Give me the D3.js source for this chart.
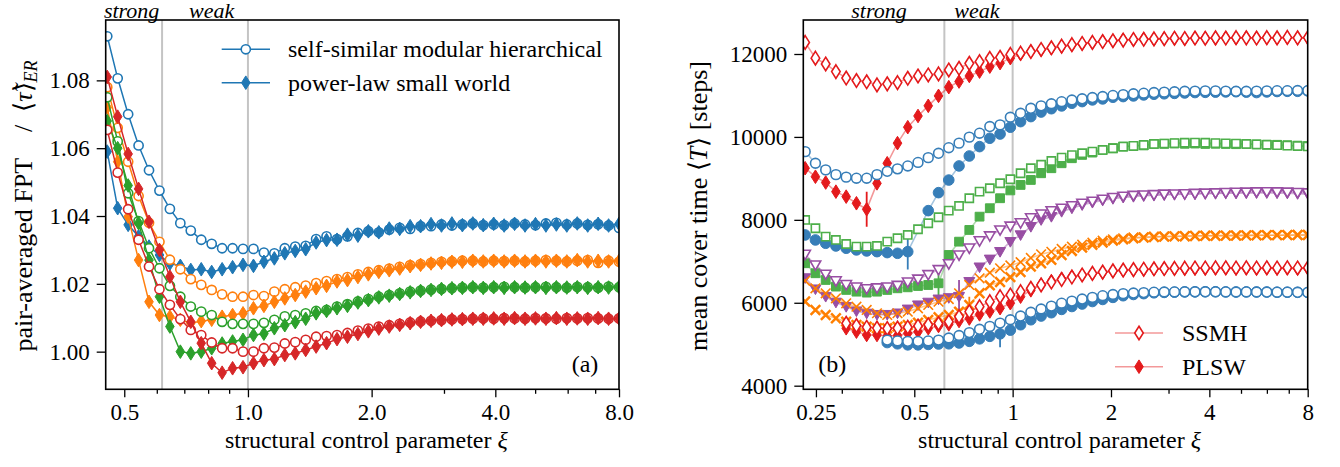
<!DOCTYPE html>
<html>
<head>
<meta charset="utf-8">
<script src="https://cdn.jsdelivr.net/npm/d3@7"></script>
<style>
  body { margin: 0; background: #fff; }
  svg { font-family: "Liberation Serif", "Times New Roman", serif; }
</style>
</head>
<body>
<svg id="chart" width="1340" height="467"></svg>
<script>
// ---- panel (a): pair-averaged FPT ----
const xiA = [0.4545, 0.4819, 0.5110, 0.5418, 0.5744, 0.6090, 0.6457, 0.6846, 0.7259, 0.7697,
  0.8161, 0.8653, 0.9175, 0.9728, 1.0314, 1.0936, 1.1595, 1.2294, 1.3035, 1.3821,
  1.4654, 1.5537, 1.6474, 1.7467, 1.8520, 1.9636, 2.0820, 2.2075, 2.3406, 2.4817,
  2.6313, 2.7899, 2.9581, 3.1364, 3.3255, 3.5260, 3.7385, 3.9639, 4.2028, 4.4562,
  4.7248, 5.0096, 5.3116, 5.6318, 5.9713, 6.3312, 6.7129, 7.1175, 7.5466, 8.0015]

const fptBlueSSMH = [1.0930, 1.0806, 1.0700, 1.0608, 1.0535, 1.0475, 1.0421, 1.0379, 1.0357, 1.0330,
  1.0318, 1.0305, 1.0305, 1.0303, 1.0303, 1.0292, 1.0290, 1.0305, 1.0310, 1.0312,
  1.0332, 1.0340, 1.0332, 1.0340, 1.0350, 1.0355, 1.0352, 1.0360, 1.0365, 1.0362,
  1.0370, 1.0370, 1.0375, 1.0372, 1.0375, 1.0378, 1.0373, 1.0375, 1.0373, 1.0378,
  1.0375, 1.0373, 1.0378, 1.0380, 1.0375, 1.0378, 1.0374, 1.0376, 1.0372, 1.0365]
const fptBluePLSW = [1.0590, 1.0423, 1.0374, 1.0340, 1.0310, 1.0285, 1.0260, 1.0253, 1.0241, 1.0243,
  1.0235, 1.0243, 1.0249, 1.0256, 1.0253, 1.0265, 1.0275, 1.0290, 1.0297, 1.0302,
  1.0322, 1.0329, 1.0330, 1.0345, 1.0342, 1.0355, 1.0352, 1.0363, 1.0362, 1.0370,
  1.0370, 1.0376, 1.0372, 1.0378, 1.0373, 1.0378, 1.0373, 1.0377, 1.0372, 1.0377,
  1.0372, 1.0376, 1.0372, 1.0375, 1.0372, 1.0378, 1.0372, 1.0377, 1.0372, 1.0377]
const fptOrangeSSMH = [1.0780, 1.0660, 1.0560, 1.0459, 1.0380, 1.0324, 1.0271, 1.0243, 1.0214, 1.0197,
  1.0182, 1.0169, 1.0162, 1.0162, 1.0167, 1.0164, 1.0177, 1.0184, 1.0190, 1.0195,
  1.0202, 1.0208, 1.0214, 1.0220, 1.0228, 1.0235, 1.0240, 1.0245, 1.0250, 1.0255,
  1.0258, 1.0262, 1.0265, 1.0266, 1.0268, 1.0268, 1.0266, 1.0268, 1.0267, 1.0268,
  1.0266, 1.0268, 1.0270, 1.0268, 1.0266, 1.0268, 1.0270, 1.0262, 1.0268, 1.0265]
const fptOrangePLSW = [1.0720, 1.0560, 1.0398, 1.0270, 1.0147, 1.0108, 1.0103, 1.0094, 1.0084, 1.0090,
  1.0094, 1.0103, 1.0108, 1.0113, 1.0128, 1.0135, 1.0147, 1.0157, 1.0167, 1.0177,
  1.0187, 1.0194, 1.0207, 1.0211, 1.0220, 1.0228, 1.0235, 1.0240, 1.0245, 1.0252,
  1.0256, 1.0260, 1.0262, 1.0265, 1.0265, 1.0268, 1.0266, 1.0268, 1.0266, 1.0268,
  1.0266, 1.0268, 1.0266, 1.0268, 1.0266, 1.0270, 1.0266, 1.0268, 1.0266, 1.0268]
const fptGreenSSMH = [1.0750, 1.0620, 1.0467, 1.0385, 1.0305, 1.0246, 1.0194, 1.0162, 1.0133, 1.0118,
  1.0108, 1.0088, 1.0082, 1.0082, 1.0082, 1.0085, 1.0094, 1.0104, 1.0108, 1.0113,
  1.0120, 1.0123, 1.0133, 1.0140, 1.0148, 1.0155, 1.0162, 1.0167, 1.0172, 1.0177,
  1.0180, 1.0183, 1.0185, 1.0187, 1.0189, 1.0190, 1.0189, 1.0190, 1.0191, 1.0190,
  1.0189, 1.0190, 1.0191, 1.0190, 1.0189, 1.0191, 1.0190, 1.0189, 1.0192, 1.0190]
const fptGreenPLSW = [1.0680, 1.0600, 1.0490, 1.0379, 1.0270, 1.0162, 1.0074, 1.0000, 0.9995, 1.0000,
  1.0010, 1.0024, 1.0030, 1.0035, 1.0049, 1.0053, 1.0069, 1.0078, 1.0087, 1.0097,
  1.0113, 1.0120, 1.0128, 1.0135, 1.0145, 1.0152, 1.0160, 1.0165, 1.0170, 1.0175,
  1.0179, 1.0182, 1.0185, 1.0187, 1.0188, 1.0190, 1.0188, 1.0190, 1.0188, 1.0190,
  1.0189, 1.0190, 1.0188, 1.0190, 1.0189, 1.0190, 1.0188, 1.0190, 1.0189, 1.0191]
const fptRedSSMH = [1.0654, 1.0528, 1.0420, 1.0330, 1.0251, 1.0184, 1.0138, 1.0096, 1.0064, 1.0049,
  1.0027, 1.0010, 1.0010, 1.0000, 1.0000, 1.0010, 1.0012, 1.0024, 1.0028, 1.0035,
  1.0044, 1.0046, 1.0049, 1.0055, 1.0062, 1.0068, 1.0074, 1.0078, 1.0082, 1.0086,
  1.0089, 1.0091, 1.0093, 1.0095, 1.0096, 1.0097, 1.0098, 1.0097, 1.0099, 1.0098,
  1.0097, 1.0099, 1.0098, 1.0097, 1.0099, 1.0098, 1.0099, 1.0098, 1.0097, 1.0098]
const fptRedPLSW = [1.0810, 1.0693, 1.0583, 1.0480, 1.0383, 1.0300, 1.0221, 1.0147, 1.0088, 1.0025,
  0.9966, 0.9938, 0.9951, 0.9954, 0.9966, 0.9975, 0.9978, 0.9990, 0.9995, 1.0005,
  1.0015, 1.0025, 1.0037, 1.0044, 1.0052, 1.0060, 1.0068, 1.0074, 1.0079, 1.0084,
  1.0088, 1.0091, 1.0093, 1.0095, 1.0096, 1.0097, 1.0097, 1.0098, 1.0097, 1.0099,
  1.0097, 1.0098, 1.0097, 1.0099, 1.0097, 1.0098, 1.0097, 1.0099, 1.0097, 1.0098]

const xTicksA = [0.5, 1, 2, 4, 8]
const xMinorA = [0.6, 0.7, 0.8, 0.9, 3, 5, 6, 7]
const yTicksA = [1.00, 1.02, 1.04, 1.06, 1.08]
const legendA = ['self-similar modular hierarchical', 'power-law small world']

// ---- panel (b): mean cover time ----
const xiB = [0.2317, 0.2491, 0.2678, 0.2878, 0.3094, 0.3326, 0.3575, 0.3844, 0.4132, 0.4442,
  0.4775, 0.5133, 0.5517, 0.5931, 0.6376, 0.6854, 0.7368, 0.7920, 0.8514, 0.9152,
  0.9839, 1.0576, 1.1369, 1.2222, 1.3138, 1.4123, 1.5182, 1.6321, 1.7545, 1.8860,
  2.0274, 2.1794, 2.3428, 2.5185, 2.7074, 2.9104, 3.1286, 3.3632, 3.6153, 3.8864,
  4.1778, 4.4911, 4.8278, 5.1898, 5.5789, 5.9972, 6.4469, 6.9303, 7.4499, 8.0085]

const coverRedSSMH1 = [12280, 11900, 11760, 11575, 11420, 11360, 11330, 11255, 11280, 11310,
  11415, 11470, 11495, 11520, 11615, 11655, 11775, 11815, 11895, 11920,
  11990, 12020, 12060, 12110, 12150, 12190, 12225, 12255, 12280, 12300,
  12320, 12335, 12350, 12355, 12365, 12370, 12380, 12375, 12385, 12380,
  12390, 12385, 12395, 12390, 12385, 12395, 12390, 12400, 12390, 12395]
const coverRedPLSW1 = [9245, 9040, 8900, 8680, 8560, 8400, 8255, 8880, 9365, 9850,
  10235, 10505, 10750, 10990, 11200, 11335, 11470, 11575, 11695, 11780,
  11900, 12000, 12060, 12100, 12140, 12180, 12220, 12250, 12275, 12300,
  12320, 12340, 12345, 12360, 12355, 12370, 12375, 12365, 12380, 12385,
  12375, 12390, 12380, 12395, 12385, 12390, 12380, 12395, 12385, 12390]
const coverBlueSSMH1 = [9645, 9365, 9205, 9090, 9030, 9005, 9005, 9090, 9170, 9230,
  9300, 9385, 9500, 9605, 9740, 9850, 9995, 10090, 10250, 10290,
  10475, 10570, 10690, 10750, 10800, 10850, 10890, 10920, 10950, 10975,
  11000, 11020, 11040, 11055, 11070, 11080, 11090, 11100, 11105, 11110,
  11110, 11105, 11100, 11100, 11105, 11110, 11115, 11115, 11120, 11115]
const coverBluePLSW1 = [7636, 7515, 7435, 7370, 7315, 7275, 7250, 7233, 7210, 7193,
  7233, null, 8222, 8656, 8960, 9300, 9540, 9766, 9968, 10070,
  10234, 10369, 10490, 10600, 10680, 10748, 10812, 10852, 10893, 10917,
  10957, 10973, 10989, 11013, 11030, 11040, 11050, 11060, 11070, 11075,
  11080, 11085, 11090, 11080, 11070, 11085, 11095, 11100, 11100, 11110]
const coverGreenSSMH1 = [7997, 7797, 7595, 7515, 7418, 7353, 7353, 7370, 7474, 7556,
  7636, 7773, 7918, 8063, 8222, 8335, 8521, 8680, 8762, 8883,
  8979, 9124, 9245, 9330, 9420, 9500, 9560, 9606, 9645, 9686,
  9727, 9766, 9783, 9806, 9831, 9840, 9850, 9860, 9863, 9860,
  9850, 9845, 9840, 9830, 9820, 9810, 9800, 9790, 9780, 9770]
const coverGreenPLSW1 = [6953, 6712, 6550, 6390, 6310, 6268, 6245, 6268, 6309, 6349,
  6373, 6405, 6429, 6470, 7153, 7474, 7756, 8077, 8280, 8521,
  8710, 8842, 8962, 9124, 9245, 9365, 9486, 9566, 9622, 9686,
  9727, 9766, 9780, 9795, 9830, 9835, 9840, 9835, 9840, 9830,
  9835, 9830, 9825, 9830, 9820, 9815, 9810, 9800, 9790, 9780]
const coverPurpleSSMH1 = [7170, 6912, 6690, 6530, 6440, 6380, 6340, 6360, 6380, 6420,
  6500, 6570, 6680, 6800, 6940, 7153, 7320, 7495, 7615, 7756,
  7850, 7930, 8050, 8140, 8220, 8280, 8340, 8400, 8450, 8497,
  8540, 8570, 8590, 8600, 8610, 8620, 8625, 8630, 8640, 8645,
  8650, 8660, 8665, 8670, 8675, 8680, 8675, 8670, 8660, 8650]
const coverPurplePLSW1 = [6600, 6330, 6150, 6010, 5906, 5800, 5745, 5715, 5715, 5750,
  5845, 5945, 6010, 6087, 6120, 6150, 6509, 6860, 7050, 7233,
  7474, 7636, 7836, 8000, 8077, 8198, 8280, 8360, 8417, 8470,
  8510, 8540, 8560, 8580, 8590, 8600, 8610, 8620, 8620, 8630,
  8635, 8640, 8640, 8645, 8650, 8650, 8645, 8640, 8630, 8620]
const coverOrangeSSMH1 = [6530, 6349, 6229, 6108, 5988, 5906, 5826, 5747, 5706, 5747,
  5785, 5867, 5947, 6027, 6090, 6229, 6429, 6591, 6726, 6832,
  6900, 6980, 7080, 7170, 7230, 7300, 7353, 7400, 7450, 7498,
  7531, 7556, 7575, 7585, 7595, 7600, 7605, 7610, 7615, 7615,
  7620, 7620, 7625, 7625, 7630, 7630, 7630, 7635, 7635, 7636]
const coverOrangePLSW1 = [6030, 5826, 5706, 5626, 5544, 5464, 5424, 5385, 5385, 5424,
  5464, 5521, 5585, 5650, 5706, 5785, 5947, 6229, 6420, 6500,
  6620, 6740, 6871, 6953, 7033, 7150, 7250, 7330, 7400, 7450,
  7500, 7530, 7555, 7570, 7585, 7595, 7600, 7605, 7610, 7615,
  7615, 7620, 7620, 7625, 7625, 7630, 7630, 7630, 7635, 7635]
const coverRedSSMH2 = [null, null, null, null, 5505, 5450, 5410, 5390, 5380, 5390,
  5410, 5440, 5470, 5500, 5544, 5665, 5785, 5906, 6027, 6147,
  6188, 6268, 6349, 6430, 6500, 6560, 6620, 6670, 6710, 6740,
  6770, 6790, 6800, 6810, 6820, 6825, 6830, 6835, 6840, 6840,
  6845, 6845, 6840, 6845, 6840, 6845, 6840, 6845, 6840, 6845]
const coverRedPLSW2 = [null, null, null, null, 5385, 5303, 5223, 5223, 5199, 5210,
  5264, 5303, 5385, 5440, 5480, 5560, 5620, 5720, 5790, 5870,
  5990, 6147, 6300, 6440, 6520, 6580, 6630, 6670, 6700, 6730,
  6760, 6780, 6790, 6800, 6810, 6815, 6820, 6820, 6825, 6825,
  6830, 6830, 6825, 6830, 6825, 6830, 6825, 6830, 6825, 6830]
const coverBlueSSMH2 = [null, null, null, null, null, null, null, null, 5100, 5080,
  5070, 5070, 5080, 5100, 5150, 5210, 5280, 5360, 5430, 5510,
  5590, 5680, 5770, 5850, 5920, 5990, 6040, 6090, 6130, 6170,
  6200, 6220, 6235, 6245, 6255, 6260, 6262, 6265, 6265, 6265,
  6265, 6262, 6260, 6262, 6260, 6258, 6255, 6255, 6252, 6250]
const coverBluePLSW2 = [null, null, null, null, null, null, null, null, 5040, 5010,
  4985, 4985, 4995, 5005, 5010, 5030, 5070, 5130, 5190, 5250,
  5340, 5470, 5590, 5680, 5760, 5840, 5910, 5970, 6030, 6080,
  6130, 6170, 6200, 6220, 6240, 6250, 6255, 6260, 6262, 6265,
  6265, 6262, 6260, 6262, 6260, 6258, 6255, 6255, 6252, 6250]

// [series, point index, half error]
const coverErrors = [
  ['coverRedPLSW1', 6, 420],
  ['coverBluePLSW1', 10, 430],
  ['coverGreenPLSW1', 13, 420],
  ['coverPurplePLSW1', 15, 400],
  ['coverOrangePLSW1', 16, 200],
  ['coverBluePLSW2', 19, 320]
]

const xTicksB = [0.25, 0.5, 1, 2, 4, 8]
const xMinorB = [0.3, 0.4, 0.6, 0.7, 0.8, 0.9, 3, 5, 6, 7]
const yTicksB = [4000, 6000, 8000, 10000, 12000]
const legendB = ['SSMH', 'PLSW']

const regimeBounds = [0.618, 1]

// ---------------------------------------------------------------

const svg = d3.select('#chart')
const TICKFONT = 23
const FONT = 24
const YLFONT = 26

const boxA = { left: 105.7, right: 619, top: 20, bottom: 389.3 }
const boxB = { left: 803.3, right: 1307.7, top: 20, bottom: 389.3 }

const xA = d3.scaleLog().base(2).domain([0.4506, 8]).range([boxA.left, boxA.right])
const yA = d3.scaleLinear().domain([0.9889, 1.0978]).range([boxA.bottom, boxA.top])
const xB = d3.scaleLog().base(2).domain([0.2287, 8]).range([boxB.left, boxB.right])
const yB = d3.scaleLinear().domain([3913, 12820]).range([boxB.bottom, boxB.top])

const shape = {
  o: r => d3.symbol(d3.symbolCircle, Math.PI * r * r)(),
  d: r => `M0,${-r}L${r * 0.63},0L0,${r}L${-r * 0.63},0Z`,
  s: r => `M${-r},${-r}H${r}V${r}H${-r}Z`,
  v: r => `M${-r},${-r * 0.75}L${r},${-r * 0.75}L0,${r}Z`,
  x: r => `M${-r},${-r}L${r},${r}M${-r},${r}L${r},${-r}`
}

const defs = svg.append('defs')
function clipFor(id, box) {
  defs.append('clipPath').attr('id', id).append('rect')
    .attr('x', box.left).attr('y', box.top)
    .attr('width', box.right - box.left).attr('height', box.bottom - box.top)
}
clipFor('clipA', boxA)
clipFor('clipB', boxB)

function vlines(box, x) {
  svg.append('g').selectAll('line').data(regimeBounds).join('line')
    .attr('x1', d => x(d)).attr('x2', d => x(d))
    .attr('y1', box.top).attr('y2', box.bottom)
    .attr('stroke', '#c4c4c4').attr('stroke-width', 2)
}

function drawMarkers(g, pts, x, y, st) {
  g.selectAll(null).data(pts).join('path')
    .attr('transform', d => `translate(${x(d[0])},${y(d[1])})`)
    .attr('d', shape[st.mk](st.size))
    .attr('fill', st.mk === 'x' ? 'none' : (st.open ? '#fff' : st.color))
    .attr('stroke', st.color)
    .attr('stroke-width', st.sw)
}

function drawSeries(g, xs, vals, x, y, st, errs) {
  const pts = vals.map((v, i) => [xs[i], v, i]).filter(p => p[1] != null)
  g.append('path').datum(pts)
    .attr('d', d3.line().x(d => x(d[0])).y(d => y(d[1])))
    .attr('fill', 'none').attr('stroke', st.color)
    .attr('stroke-width', st.lw).attr('stroke-opacity', st.lineOpacity)
  if (errs) {
    g.selectAll(null).data(errs).join('line')
      .attr('x1', e => x(xs[e[1]])).attr('x2', e => x(xs[e[1]]))
      .attr('y1', e => y(vals[e[1]] - e[2])).attr('y2', e => y(vals[e[1]] + e[2]))
      .attr('stroke', st.color).attr('stroke-width', 1.8)
  }
  drawMarkers(g, pts, x, y, st)
}

function axes(box, x, y, xt, xfmt, xminor, yt, yfmt) {
  const g = svg.append('g')
  g.append('g').attr('transform', `translate(0,${box.bottom})`)
    .call(d3.axisBottom(x).tickValues(xminor).tickSize(4.5).tickFormat(''))
  g.append('g').attr('transform', `translate(0,${box.bottom})`)
    .call(d3.axisBottom(x).tickValues(xt).tickSize(8).tickPadding(6).tickFormat(xfmt))
  g.append('g').attr('transform', `translate(${box.left},0)`)
    .call(d3.axisLeft(y).tickValues(yt).tickSize(9).tickPadding(7).tickFormat(yfmt))
  g.selectAll('.domain').remove()
  g.selectAll('g').attr('font-family', null).attr('font-size', TICKFONT)
  g.selectAll('.tick line').attr('stroke', '#000').attr('stroke-width', 1.3)
  g.selectAll('.tick text').attr('fill', '#000')
  svg.append('rect')
    .attr('x', box.left).attr('y', box.top)
    .attr('width', box.right - box.left).attr('height', box.bottom - box.top)
    .attr('fill', 'none').attr('stroke', '#000').attr('stroke-width', 1.6)
}

function xlabel(box) {
  const t = svg.append('text').attr('x', (box.left + box.right) / 2 + 4).attr('y', 448)
    .attr('text-anchor', 'middle').attr('font-size', FONT)
  t.append('tspan').text('structural control parameter ')
  t.append('tspan').attr('font-style', 'italic').text('ξ')
}

function regimeText(x, ws, ww) {
  svg.append('text').attr('x', x(ws)).attr('y', 17.5).attr('text-anchor', 'middle')
    .attr('font-size', 22).attr('font-style', 'italic').text('strong')
  svg.append('text').attr('x', x(ww)).attr('y', 17.5).attr('text-anchor', 'middle')
    .attr('font-size', 22).attr('font-style', 'italic').text('weak')
}

// ---------------- panel (a) ----------------
vlines(boxA, xA)
const gA = svg.append('g').attr('clip-path', 'url(#clipA)')
const tab = { blue: '#1f77b4', orange: '#ff7f0e', green: '#2ca02c', red: '#d62728' }
const styleCircA = c => ({ mk: 'o', size: 4.6, open: true, sw: 1.6, color: c, lw: 1.5, lineOpacity: 1 })
const styleDiamA = c => ({ mk: 'd', size: 6.8, open: false, sw: 1, color: c, lw: 1.5, lineOpacity: 1 })
const seriesA = [
  [fptBlueSSMH, styleCircA(tab.blue)], [fptBluePLSW, styleDiamA(tab.blue)],
  [fptOrangeSSMH, styleCircA(tab.orange)], [fptOrangePLSW, styleDiamA(tab.orange)],
  [fptGreenSSMH, styleCircA(tab.green)], [fptGreenPLSW, styleDiamA(tab.green)],
  [fptRedSSMH, styleCircA(tab.red)], [fptRedPLSW, styleDiamA(tab.red)]
]
seriesA.forEach(([vals, st]) => drawSeries(gA, xiA, vals, xA, yA, st))
axes(boxA, xA, yA, xTicksA, d3.format('.1f'), xMinorA, yTicksA, d3.format('.2f'))
xlabel(boxA)
regimeText(xA, 0.521, 0.816)

{
  const yl = svg.append('text').attr('transform', 'translate(32,206) rotate(-90)')
    .attr('text-anchor', 'middle').attr('font-size', YLFONT)
  yl.append('tspan').text('pair-averaged FPT\u2003/\u2002⟨')
  yl.append('tspan').attr('font-style', 'italic').text('τ\u0303')
  yl.append('tspan').text('⟩')
  yl.append('tspan').attr('font-style', 'italic').attr('font-size', 18).attr('dy', 5).text('ER')
}

// legend (a)
{
  const lg = svg.append('g')
  const rows = [styleCircA(tab.blue), styleDiamA(tab.blue)]
  rows.forEach((st, i) => {
    const ry = 49.3 + i * 33.4
    lg.append('line').attr('x1', 221.7).attr('x2', 270).attr('y1', ry).attr('y2', ry)
      .attr('stroke', st.color).attr('stroke-width', 1.5)
    drawMarkers(lg, [[245.8, ry]], d => d, d => d, st)
    lg.append('text').attr('x', 288).attr('y', ry + 8).attr('font-size', FONT).text(legendA[i])
  })
}
svg.append('text').attr('x', 571.7).attr('y', 372).attr('font-size', FONT).text('(a)')

// ---------------- panel (b) ----------------
vlines(boxB, xB)
const gB = svg.append('g').attr('clip-path', 'url(#clipB)')
const set1 = { red: '#e41a1c', blue: '#377eb8', green: '#4daf4a', purple: '#984ea3', orange: '#ff7f00' }
const mkB = { red: ['d', 6.8, 6.8], blue: ['o', 4.9, 5.3], green: ['s', 4.1, 4.4], purple: ['v', 5.3, 5.5], orange: ['x', 4.8, 4.8] }
const openB = c => ({ mk: mkB[c][0], size: mkB[c][1], open: true, sw: 1.6, color: set1[c], lw: 1.6, lineOpacity: 0.45 })
const fillB = c => ({ mk: mkB[c][0], size: mkB[c][2], open: false, sw: mkB[c][0] === 'x' ? 2.5 : 1, color: set1[c], lw: 1.6, lineOpacity: 0.45 })
const seriesB = [
  ['coverRedPLSW1', coverRedPLSW1, fillB('red')], ['coverRedSSMH1', coverRedSSMH1, openB('red')],
  ['coverBluePLSW1', coverBluePLSW1, fillB('blue')], ['coverBlueSSMH1', coverBlueSSMH1, openB('blue')],
  ['coverGreenPLSW1', coverGreenPLSW1, fillB('green')], ['coverGreenSSMH1', coverGreenSSMH1, openB('green')],
  ['coverPurplePLSW1', coverPurplePLSW1, fillB('purple')], ['coverPurpleSSMH1', coverPurpleSSMH1, openB('purple')],
  ['coverOrangePLSW1', coverOrangePLSW1, fillB('orange')], ['coverOrangeSSMH1', coverOrangeSSMH1, openB('orange')],
  ['coverRedPLSW2', coverRedPLSW2, fillB('red')], ['coverRedSSMH2', coverRedSSMH2, openB('red')],
  ['coverBluePLSW2', coverBluePLSW2, fillB('blue')], ['coverBlueSSMH2', coverBlueSSMH2, openB('blue')]
]
seriesB.forEach(([name, vals, st]) => {
  const errs = coverErrors.filter(e => e[0] === name)
  drawSeries(gB, xiB, vals, xB, yB, st, errs)
})
axes(boxB, xB, yB, xTicksB, d => String(d), xMinorB, yTicksB, d3.format('d'))
xlabel(boxB)
regimeText(xB, 0.39, 0.777)

{
  const yl = svg.append('text').attr('transform', 'translate(707,206) rotate(-90)')
    .attr('text-anchor', 'middle').attr('font-size', YLFONT)
  yl.append('tspan').text('mean cover time ⟨')
  yl.append('tspan').attr('font-style', 'italic').text('T')
  yl.append('tspan').text('⟩ [steps]')
}

// legend (b)
{
  const lg = svg.append('g')
  const rows = [openB('red'), fillB('red')]
  rows.forEach((st, i) => {
    const ry = 333 + i * 33.7
    lg.append('line').attr('x1', 1115).attr('x2', 1163).attr('y1', ry).attr('y2', ry)
      .attr('stroke', st.color).attr('stroke-width', 1.6).attr('stroke-opacity', 0.45)
    drawMarkers(lg, [[1139, ry]], d => d, d => d, st)
    lg.append('text').attr('x', 1182).attr('y', ry + 8).attr('font-size', FONT).text(legendB[i])
  })
}
svg.append('text').attr('x', 818.3).attr('y', 372).attr('font-size', FONT).text('(b)')
</script>
</body>
</html>
